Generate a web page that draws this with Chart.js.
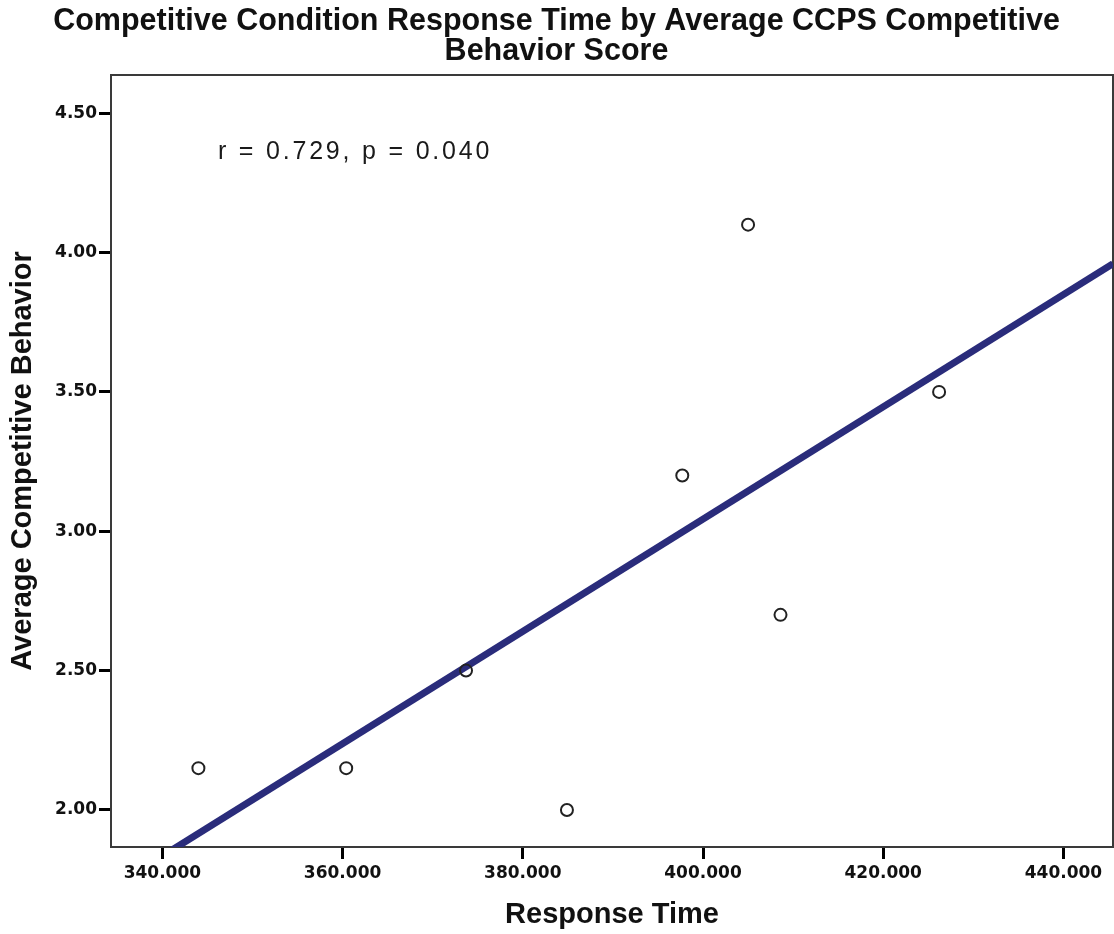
<!DOCTYPE html>
<html>
<head>
<meta charset="utf-8">
<script src="https://cdn.jsdelivr.net/npm/chart.js@4.4.1/dist/chart.umd.min.js"></script>
<style>
  html, body { margin: 0; padding: 0; background: #fff; }
  #wrap { width: 1114px; height: 934px; position: relative; }
</style>
</head>
<body>
<div id="wrap"><canvas id="c"></canvas></div>
<script>
// ---- data ----
const responseTime = [344.0, 360.4, 373.7, 384.9, 397.7, 405.0, 408.6, 426.2];
const competitiveScore = [2.15, 2.15, 2.50, 2.00, 3.20, 4.10, 2.70, 3.50];
const fitLineX = [334.3, 445.5];
const fitLineY = [1.72, 3.96];
const xTickValues = [340, 360, 380, 400, 420, 440];
const yTickValues = [2.00, 2.50, 3.00, 3.50, 4.00, 4.50];
const titleLines = ['Competitive Condition Response Time by Average CCPS Competitive', 'Behavior Score'];
const xAxisTitle = 'Response Time';
const yAxisTitle = 'Average Competitive Behavior';
const annotationText = 'r = 0.729, p = 0.040';

const points = responseTime.map((x, i) => ({ x: x, y: competitiveScore[i] }));
const fitPoints = fitLineX.map((x, i) => ({ x: x, y: fitLineY[i] }));

const framePlugin = {
  id: 'frame',
  beforeDatasetsDraw(chart) {
    const a = chart.chartArea, ctx = chart.ctx;
    ctx.save();
    ctx.strokeStyle = '#3a3a3a';
    ctx.lineWidth = 2;
    ctx.strokeRect(a.left, a.top, a.right - a.left, a.bottom - a.top);
    ctx.restore();
  },
  afterDatasetsDraw(chart) {
    const a = chart.chartArea, ctx = chart.ctx;
    ctx.save();
    ctx.font = '25px "Liberation Sans", Arial, sans-serif';
    ctx.letterSpacing = '2.8px';
    ctx.fillStyle = '#1a1a1a';
    ctx.textBaseline = 'alphabetic';
    ctx.textAlign = 'left';
    ctx.fillText(annotationText, a.left + 107, a.top + 84);
    ctx.restore();
  }
};

Chart.defaults.color = '#000';

new Chart(document.getElementById('c'), {
  type: 'scatter',
  data: {
    datasets: [
      {
        type: 'line',
        label: 'Fit',
        data: fitPoints,
        borderColor: '#2a2c7b',
        borderWidth: 7,
        pointRadius: 0,
        fill: false,
        tension: 0,
        order: 2
      },
      {
        label: 'Points',
        data: points,
        pointRadius: 6,
        pointHoverRadius: 6,
        pointBorderWidth: 2,
        pointBorderColor: '#222',
        pointBackgroundColor: 'rgba(255,255,255,0)',
        showLine: false,
        order: 1
      }
    ]
  },
  options: {
    responsive: true,
    maintainAspectRatio: false,
    animation: false,
    layout: { autoPadding: false, padding: { left: 0, right: 1, top: 0, bottom: 0 } },
    plugins: {
      legend: { display: false },
      tooltip: { enabled: false },
      title: {
        display: true,
        text: titleLines,
        color: '#111',
        font: { family: '"Liberation Sans", Arial, sans-serif', size: 30.5, weight: 'bold', lineHeight: 1.0 },
        padding: { top: 6, bottom: 8 }
      }
    },
    scales: {
      x: {
        type: 'linear',
        min: 334.3,
        max: 445.5,
        afterBuildTicks(scale) { scale.ticks = xTickValues.map(v => ({ value: v })); },
        afterFit(scale) { scale.height = 87; scale.paddingLeft = 0; scale.paddingRight = 0; },
        ticks: {
          includeBounds: false,
          padding: 4,
          color: '#111',
          font: { family: '"DejaVu Sans", sans-serif', size: 17, weight: 'bold' },
          callback: v => Number(v).toFixed(3),
          maxRotation: 0
        },
        grid: { display: true, drawOnChartArea: false, drawTicks: true, tickLength: 12, tickWidth: 3, tickColor: '#000' },
        border: { display: false },
        title: {
          display: true,
          text: xAxisTitle,
          color: '#111',
          font: { family: '"Liberation Sans", Arial, sans-serif', size: 29, weight: 'bold', lineHeight: 1.2 },
          padding: { top: 0, bottom: 2 }
        }
      },
      y: {
        type: 'linear',
        min: 1.867,
        max: 4.637,
        afterBuildTicks(scale) { scale.ticks = yTickValues.map(v => ({ value: v })); },
        afterFit(scale) { scale.width = 111; scale.paddingTop = 0; scale.paddingBottom = 0; },
        ticks: {
          includeBounds: false,
          padding: 2,
          color: '#111',
          font: { family: '"DejaVu Sans", sans-serif', size: 17, weight: 'bold' },
          callback: v => Number(v).toFixed(2)
        },
        grid: { display: true, drawOnChartArea: false, drawTicks: true, tickLength: 12, tickWidth: 3, tickColor: '#000' },
        border: { display: false },
        title: {
          display: true,
          text: yAxisTitle,
          color: '#111',
          font: { family: '"Liberation Sans", Arial, sans-serif', size: 29, weight: 'bold', lineHeight: 1.2 },
          padding: { top: 6, bottom: 0 }
        }
      }
    }
  },
  plugins: [framePlugin]
});
</script>
</body>
</html>
